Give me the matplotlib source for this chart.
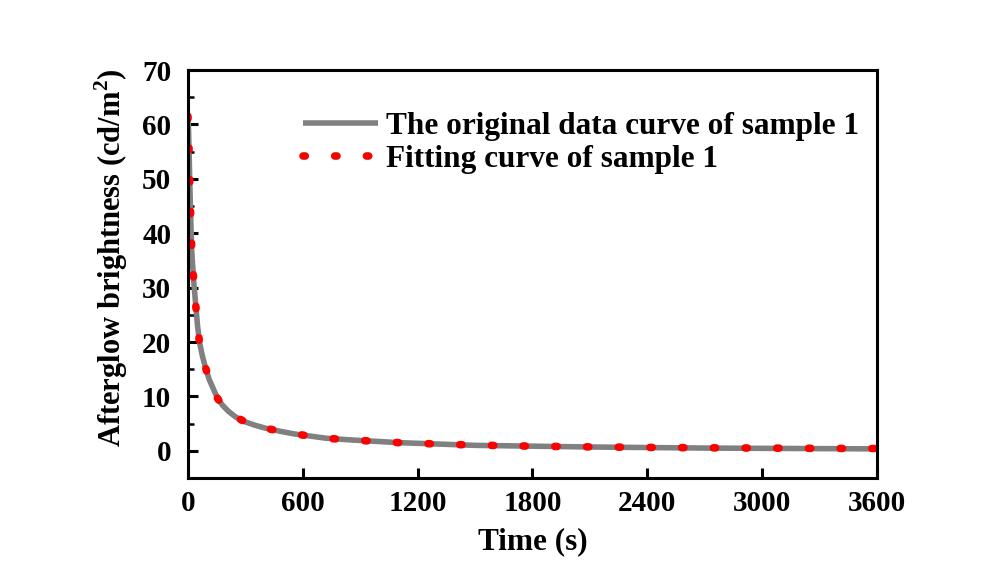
import matplotlib
matplotlib.use("Agg")
import matplotlib.pyplot as plt
from matplotlib.ticker import MultipleLocator

plt.rcParams['font.family'] = ['Liberation Serif', 'DejaVu Serif']
plt.rcParams['font.weight'] = 'bold'
plt.rcParams['mathtext.fontset'] = 'custom'
plt.rcParams['mathtext.rm'] = 'Liberation Serif:bold'
plt.rcParams['mathtext.bf'] = 'Liberation Serif:bold'

time_s = [0, 3, 6, 9, 12, 15, 20, 25, 30, 40, 50, 60, 75, 90, 110, 130, 155,
          180, 210, 250, 300, 350, 400, 480, 555, 640, 724, 850, 1000, 1100,
          1300, 1500, 1800, 2100, 2400, 2700, 3000, 3300, 3600]
original_values = [62, 59, 55, 50, 46, 42, 36.5, 33.8, 31.2, 27, 23, 20, 17.5,
                   15.5, 13.2, 11.6, 9.6, 8.4, 7.3, 6.2, 5.3, 4.7, 4.2, 3.6,
                   3.1, 2.7, 2.3, 2.0, 1.7, 1.5, 1.25, 1.0, 0.85, 0.7, 0.6,
                   0.5, 0.45, 0.4, 0.35]
fit_values = [61.5, 58.8, 55, 50, 46, 42, 36.8, 33.8, 31.2, 27, 23, 20, 17.5,
              15.5, 13.2, 11.6, 9.6, 8.4, 7.3, 6.2, 5.3, 4.7, 4.2, 3.6, 3.1,
              2.7, 2.3, 2.0, 1.7, 1.5, 1.25, 1.05, 0.85, 0.72, 0.62, 0.55,
              0.5, 0.45, 0.42]
x_ticks = [0, 600, 1200, 1800, 2400, 3000, 3600]
y_ticks = [0, 10, 20, 30, 40, 50, 60, 70]
labels = ["The original data curve of sample 1", "Fitting curve of sample 1"]

fig = plt.figure(figsize=(10.03, 5.65), dpi=100)
ax = fig.add_axes([0.1874, 0.154, 0.687, 0.722])

ax.plot(time_s, original_values, color='#808080', lw=4.0, label=labels[0],
        solid_capstyle='butt')
ax.plot(time_s, fit_values, color='#ff0000', lw=5.5, label=labels[1],
        linestyle=(0, (0.3, 3.85)), dash_capstyle='round')

ax.set_xlim(0, 3600)
ax.set_ylim(-5, 70)
ax.set_xticks(x_ticks)
ax.set_yticks(y_ticks)
ax.yaxis.set_minor_locator(MultipleLocator(5))
ax.tick_params(axis='both', which='major', direction='in', length=7, width=2.2,
               labelsize=21, top=False, right=False)
ax.tick_params(axis='y', which='major', pad=12)
ax.tick_params(axis='x', which='major', pad=9)
ax.tick_params(axis='y', which='minor', direction='in', length=4, width=1.8,
               right=False)
for lab in ax.get_xticklabels() + ax.get_yticklabels():
    lab.set_fontweight('bold')
for sp in ax.spines.values():
    sp.set_linewidth(2.2)

ax.set_xlabel("Time (s)", fontsize=22.5, fontweight='bold', labelpad=7)
ax.set_ylabel("Afterglow brightness (cd/m$^2$)", fontsize=22,
              fontweight='bold')
ax.yaxis.set_label_coords(-0.084, 0.54)

leg = ax.legend(loc='upper right', frameon=False, fontsize=22.5,
                handlelength=2.4, handletextpad=0.25, labelspacing=0.12,
                borderaxespad=0.3, bbox_to_anchor=(1.005, 0.95))
for t in leg.get_texts():
    t.set_fontweight('bold')

fig.savefig("out.png", dpi=100, facecolor='white')
